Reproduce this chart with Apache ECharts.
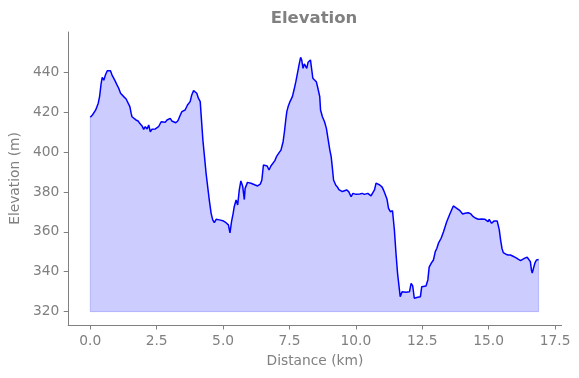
<!DOCTYPE html>
<html>
<head>
<meta charset="utf-8">
<script src="https://cdn.jsdelivr.net/npm/echarts@6/dist/echarts.min.js"></script>
<style>
  html, body { margin: 0; padding: 0; background: #fff; }
  #chart { width: 579px; height: 378px; }
</style>
</head>
<body>
<div id="chart"></div>
<script>
// distance along the route (km) and elevation (m)
const distanceKm = [
  0, 0.08, 0.2, 0.3, 0.35, 0.41, 0.45, 0.51, 0.57, 0.64, 0.7, 0.76, 0.82, 0.92,
  1.01, 1.07, 1.14, 1.2, 1.26, 1.35, 1.42, 1.49, 1.54, 1.57, 1.64, 1.72, 1.8, 1.86, 1.95,
  2.01, 2.07, 2.14, 2.2, 2.26, 2.32, 2.45, 2.57, 2.67, 2.74, 2.82, 2.89, 2.95,
  3.01, 3.07, 3.14, 3.22, 3.3, 3.39, 3.45, 3.51, 3.57, 3.66, 3.76, 3.82, 3.89, 3.95,
  4.01, 4.07, 4.14, 4.17, 4.24, 4.3, 4.36, 4.42, 4.48, 4.55, 4.61, 4.67, 4.74, 4.8, 4.86, 4.99,
  5.11, 5.17, 5.2, 5.26, 5.32, 5.38, 5.42, 5.49, 5.55, 5.61, 5.67, 5.74, 5.8, 5.83, 5.92, 5.98,
  6.05, 6.11, 6.21, 6.3, 6.4, 6.46, 6.52, 6.58, 6.66, 6.73, 6.8, 6.86, 6.95,
  7.01, 7.11, 7.18, 7.26, 7.31, 7.36, 7.4, 7.45, 7.52, 7.61, 7.67, 7.74, 7.8, 7.86, 7.92, 7.96,
  8.01, 8.06, 8.11, 8.15, 8.2, 8.23, 8.29, 8.34, 8.38, 8.45, 8.51, 8.57, 8.64, 8.67, 8.74, 8.82, 8.89, 8.96,
  9.02, 9.07, 9.11, 9.16, 9.24, 9.31, 9.36, 9.42, 9.49, 9.55, 9.65, 9.73, 9.82, 9.89, 9.95,
  10.01, 10.07, 10.15, 10.24, 10.32, 10.39, 10.45, 10.51, 10.57, 10.64, 10.7, 10.76, 10.82, 10.9, 10.99,
  11.05, 11.11, 11.17, 11.23, 11.3, 11.38, 11.45, 11.51, 11.57, 11.64, 11.67, 11.74, 11.8, 11.89, 11.96,
  12.02, 12.08, 12.14, 12.2, 12.26, 12.33, 12.43, 12.48, 12.55, 12.64, 12.71, 12.76, 12.84, 12.92, 12.99,
  13.05, 13.11, 13.21, 13.3, 13.42, 13.55, 13.67, 13.8, 13.92,
  14.02, 14.11, 14.23, 14.33, 14.42, 14.52, 14.61, 14.67, 14.74, 14.8, 14.86, 14.92, 14.98,
  15.02, 15.07, 15.11, 15.15, 15.21, 15.27, 15.32, 15.36, 15.4, 15.45, 15.5, 15.55, 15.65, 15.73, 15.82, 15.9, 15.95,
  16.02, 16.11, 16.2, 16.27, 16.36, 16.45, 16.52, 16.57, 16.61, 16.64, 16.67, 16.74, 16.8, 16.88
];
const elevationM = [
  417.4, 418.6, 421, 424.5, 427.8, 434.5, 437.5, 436, 438.6, 440.8, 441.7, 440.8, 438.6, 436.1,
  433.6, 432, 429.5, 429.5, 427.8, 426.6, 426.1, 422.8, 419.4, 417.7, 417.4, 416.1, 415.6, 414.4, 413.1,
  411.4, 412.7, 411.6, 413.6, 410.2, 411.4, 411.6, 412.7, 415.2, 415.7, 414.9, 416.1, 415.2,
  416.9, 415.6, 416.4, 414.7, 415.7, 418.6, 420.3, 419.4, 421.1, 423.6, 425.3, 428.6, 430.8, 431.5,
  429.5, 427, 425.3, 419.4, 406, 397.7, 389.4, 382.7, 376, 369.3, 366, 364.6, 366.3, 366.8, 366, 365.6,
  364.6, 364, 363.5, 359.5, 365.3, 369.3, 372.6, 376, 373.5, 381, 385.5, 382.7, 376.2, 381.8, 384.8, 385.3,
  384.4, 384.7, 383.5, 383, 383.9, 386, 393.5, 394, 393, 391, 393, 393.5, 395.7,
  397.7, 399.7, 401, 405.2, 410.2, 416.1, 420.3, 422.8, 425.3, 427.8, 431.1, 435.3, 439.5, 443.7, 447.5, 446.2,
  442, 444.2, 443.7, 442, 445, 444.5, 446.2, 446.7, 437, 436.5, 435.3, 432, 427.8, 421.1, 417.7, 415.2, 411.9, 406,
  401, 397.7, 392.7, 386, 383.5, 382.4, 381.2, 381.2, 380.2, 380.5, 381, 380.2, 377.6, 379.3, 380.2,
  378.8, 379.7, 379, 379.3, 378.8, 378, 379.3, 378.8, 378, 379.7, 381, 384.4, 384, 383.5, 382.4,
  380.7, 380.2, 376.5, 371.8, 370.1, 370.6, 361, 349.3, 339.2, 330.9, 327.5, 330, 329.2, 329.7, 329.2,
  330, 334.2, 332.9, 326.7, 327.5, 327.2, 327.5, 332.5, 332.2, 332.9, 335.9, 342.3, 344.3, 345.9, 350.1,
  351.8, 354.3, 356.8, 360.1, 365.1, 369.3, 373, 371.8, 370.6,
  369, 369.3, 369.6, 369, 367.6, 366.8, 366.3, 366, 366.5, 365.5, 366.3, 366, 365.1,
  366.3, 365.5, 364.3, 365.1, 365.5, 364.6, 365.5, 365.1, 361, 355.9, 351.8, 349.6, 348.8, 348.4, 348.4, 347.9, 348.2,
  347.1, 346.3, 345.6, 345.9, 346.8, 347.3, 346.8, 345.1, 340.9, 339.4, 340.9, 344.3, 345.9, 346.1
];
const fillBase = 320;
const xTicks = [0, 2.5, 5, 7.5, 10, 12.5, 15, 17.5];
const yTicks = [320, 340, 360, 380, 400, 420, 440];

const profile = distanceKm.map((d, i) => [d, elevationM[i]]);
const last = distanceKm.length - 1;
// outline of the filled polygon (left edge, base, right edge)
const fillEdge = [
  [distanceKm[0], elevationM[0]], [distanceKm[0], fillBase],
  [distanceKm[last], fillBase], [distanceKm[last], elevationM[last]]
];

const grey = '#808080';
const font = 'DejaVu Sans';

const chart = echarts.init(document.getElementById('chart'));
chart.setOption({
  animation: false,
  title: {
    text: 'Elevation',
    left: 309, top: 5, textAlign: 'center',
    textStyle: { color: grey, fontSize: 16.5, fontWeight: 'bold', fontFamily: font }
  },
  grid: { left: 66.7, right: 17.3, top: 32, bottom: 53 },
  xAxis: {
    type: 'value',
    min: -0.83, max: 17.75,
    name: 'Distance (km)',
    nameLocation: 'middle',
    nameGap: 29,
    nameTextStyle: { color: grey, fontSize: 13.8, fontFamily: font },
    axisLine: { onZero: false, lineStyle: { color: grey, width: 1 } },
    axisTick: { customValues: xTicks, length: 4.5, lineStyle: { color: grey } },
    axisLabel: {
      customValues: xTicks, margin: 9, color: grey, fontSize: 13.8, fontFamily: font,
      formatter: v => v.toFixed(1)
    },
    splitLine: { show: false }
  },
  yAxis: {
    type: 'value',
    min: 313.3, max: 460.2,
    name: 'Elevation (m)',
    nameLocation: 'middle',
    nameGap: 42,
    nameTextStyle: { color: grey, fontSize: 13.8, fontFamily: font },
    axisLine: { show: true, onZero: false, lineStyle: { color: grey, width: 1 } },
    axisTick: { show: true, customValues: yTicks, length: 4.5, lineStyle: { color: grey } },
    axisLabel: { customValues: yTicks, margin: 9, color: grey, fontSize: 13.8, fontFamily: font },
    splitLine: { show: false }
  },
  series: [
    {
      type: 'line',
      data: profile,
      showSymbol: false,
      lineStyle: { color: '#0000ff', width: 1.5 },
      areaStyle: { color: 'rgba(0,0,255,0.2)', opacity: 1, origin: fillBase },
      z: 3
    },
    {
      type: 'line',
      data: fillEdge,
      showSymbol: false,
      lineStyle: { color: 'rgba(0,0,255,0.2)', width: 1 },
      z: 2
    }
  ]
});
</script>
</body>
</html>
